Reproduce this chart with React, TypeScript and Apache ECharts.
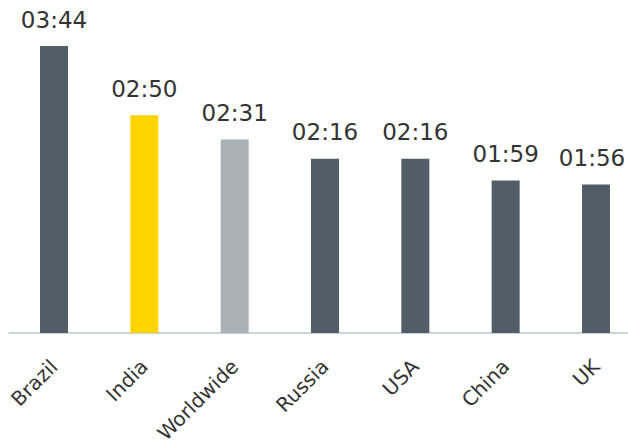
import React, { useEffect, useRef } from "react";
import * as echarts from "echarts";

const categories = ["Brazil", "India", "Worldwide", "Russia", "USA", "China", "UK"];
// durations in minutes (hh:mm shown as labels)
const durations = [224, 170, 151, 136, 136, 119, 116];
const barColors = ["#515e68", "#ffd300", "#a9b1b7", "#515e68", "#515e68", "#515e68", "#515e68"];

function fmt(v: number): string {
  const h = Math.floor(v / 60);
  const m = Math.round(v - h * 60);
  return String(h).padStart(2, "0") + ":" + String(m).padStart(2, "0");
}

export default function App() {
  const ref = useRef<HTMLDivElement>(null);
  useEffect(() => {
    document.body.style.margin = "0";
    const chart = echarts.init(ref.current!, null, { renderer: "svg" });
    chart.setOption({
      animation: false,
      backgroundColor: "#ffffff",
      grid: [
        { left: 54, top: 0, right: 32, bottom: 113, containLabel: false, outerBoundsMode: "none" },
        { left: 9, top: 0, right: 0, bottom: 113, containLabel: false, outerBoundsMode: "none" },
      ],
      xAxis: [
        {
          type: "category",
          gridIndex: 0,
          data: categories,
          boundaryGap: false,
          axisLine: { show: false },
          axisTick: { show: false },
          axisLabel: {
            rotate: 45,
            margin: 30,
            interval: 0,
            fontFamily: "DejaVu Sans",
            fontSize: 20,
            color: "#333333",
          },
        },
        {
          type: "value",
          gridIndex: 1,
          min: 0,
          max: 1,
          axisLine: { show: true, lineStyle: { color: "#bcc3cb", width: 1.5 } },
          axisTick: { show: false },
          axisLabel: { show: false },
          splitLine: { show: false },
        },
      ],
      yAxis: [
        { type: "value", gridIndex: 0, min: 0, max: 260, show: false, splitLine: { show: false } },
        { type: "value", gridIndex: 1, min: 0, max: 1, show: false, splitLine: { show: false } },
      ],
      series: [
        {
          type: "bar",
          xAxisIndex: 0,
          yAxisIndex: 0,
          barWidth: 28,
          z: 3,
          data: durations.map((v, i) => ({
            value: v,
            itemStyle: { color: barColors[i] },
            label: i === durations.length - 1 ? { offset: [-4, 0] } : undefined,
          })),
          label: {
            show: true,
            position: "top",
            distance: 15,
            fontFamily: "DejaVu Sans",
            fontSize: 23,
            color: "#333333",
            formatter: (p: any) => fmt(p.value),
          },
        },
      ],
    });
    return () => chart.dispose();
  }, []);
  return <div ref={ref} style={{ position: "absolute", left: 0, top: 0, width: 628, height: 446 }} />;
}
